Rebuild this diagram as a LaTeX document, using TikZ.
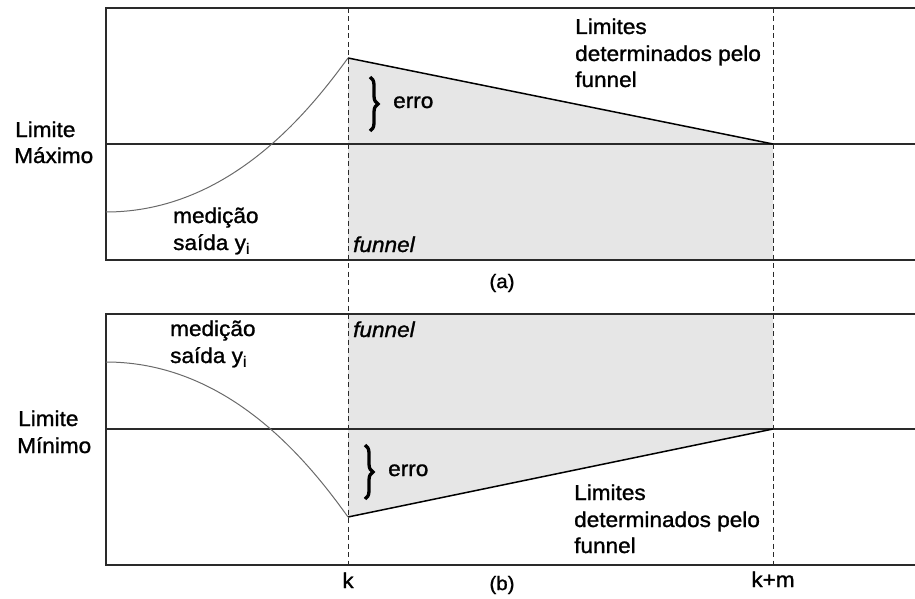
\documentclass[tikz,border=0pt]{standalone}
\usepackage{fontspec}
\setmainfont[FakeStretch=1.05,FakeBold=1.2]{Liberation Sans}
\usetikzlibrary{decorations.pathreplacing}
\definecolor{funnelgray}{HTML}{E6E6E6}
\definecolor{frameline}{HTML}{2A2A2A}
\definecolor{curveline}{HTML}{6A6A6A}
\begin{document}
\begin{tikzpicture}[x=1pt,y=-1pt,
  frame/.style={line width=1.2pt,draw=frameline},
  guide/.style={line width=0.9pt,draw=frameline,dash pattern=on 5pt off 3.5pt},
  bound/.style={line width=1.5pt,draw=black},
  meas/.style={line width=1pt,draw=curveline},
  txt/.style={inner sep=0pt,font=\fontsize{21.5}{25}\selectfont,anchor=base west},
  subcaption/.style={inner sep=0pt,font=\fontsize{19.5}{23}\selectfont},
  errbrace/.style={line width=3.3pt,decorate,decoration={brace,amplitude=8pt}}]
\useasboundingbox (0,0) rectangle (915,599);

% ---------- key points ----------
% panel (a)
\coordinate (aTL) at (106,8);   \coordinate (aTR) at (915,8);
\coordinate (aBL) at (106,260); \coordinate (aBR) at (915,260);
\coordinate (aML) at (106,144); \coordinate (aMR) at (915,144);
\coordinate (aK)  at (348,58);  \coordinate (aKm) at (773,144);
\coordinate (aKb) at (348,260); \coordinate (aKmb) at (773,260);
\coordinate (aY0) at (106,212);
% panel (b)
\coordinate (bTL) at (106,314); \coordinate (bTR) at (915,314);
\coordinate (bBL) at (106,565); \coordinate (bBR) at (915,565);
\coordinate (bML) at (106,429); \coordinate (bMR) at (915,429);
\coordinate (bK)  at (348,517); \coordinate (bKm) at (773,429);
\coordinate (bKt) at (348,314); \coordinate (bKmt) at (773,314);
\coordinate (bY0) at (106,362);
% guide ends
\coordinate (kTop) at (348,8);  \coordinate (kBot) at (348,565);
\coordinate (kmTop) at (773,8); \coordinate (kmBot) at (773,565);

% ---------- funnel regions ----------
\fill[funnelgray] (aK) -- (aKm) -- (aKmb) -- (aKb) -- cycle;
\fill[funnelgray] (bKt) -- (bKmt) -- (bKm) -- (bK) -- cycle;

% ---------- frames ----------
\draw[frame] (aTR) -- (aTL) -- (aBL) -- (aBR);
\draw[frame] (aML) -- (aMR);
\draw[frame] (bTR) -- (bTL) -- (bBL) -- (bBR);
\draw[frame] (bML) -- (bMR);

% ---------- instants k and k+m ----------
\draw[guide] (kTop) -- (kBot);
\draw[guide] (kmTop) -- (kmBot);

% ---------- funnel limits ----------
\draw[bound] (aK) -- (aKm);
\draw[bound] (bK) -- (bKm);

% ---------- measured output ----------
\draw[meas] (aY0) .. controls (230,212) and (310,110) .. (aK);
\draw[meas] (bY0) .. controls (230,362) and (310,464) .. (bK);

% ---------- error braces ----------
\draw[errbrace] (370,77) -- (370,131);
\draw[errbrace] (365,445) -- (365,499);

% ---------- labels, panel (a) ----------
\node[txt] (aL1) at (15,137) {Limite};
\node[txt] (aL2) at (14,163) {Máximo};
\node[txt] (aM1) at (173,223) {medição};
\node[txt] (aM2) at (173,250) {saída y\textsubscript{i}};
\node[txt] (aF)  at (353,252) {\itshape funnel};
\node[txt] (aE)  at (393,108) {erro};
\node[txt] (aD1) at (575,34) {Limites};
\node[txt] (aD2) at (575,61) {determinados pelo};
\node[txt] (aD3) at (575,87) {funnel};
\node[subcaption] (aCap) at (502,283) {(a)};

% ---------- labels, panel (b) ----------
\node[txt] (bL1) at (18,426) {Limite};
\node[txt] (bL2) at (17,453) {Mínimo};
\node[txt] (bM1) at (170,336) {medição};
\node[txt] (bM2) at (170,363) {saída y\textsubscript{i}};
\node[txt] (bF)  at (353,337) {\itshape funnel};
\node[txt] (bE)  at (388,476) {erro};
\node[txt] (bD1) at (574,500) {Limites};
\node[txt] (bD2) at (574,527) {determinados pelo};
\node[txt] (bD3) at (574,553) {funnel};
\node[subcaption] (bCap) at (502,585) {(b)};
\node[txt,anchor=base] (kLab)  at (348,588) {k};
\node[txt,anchor=base] (kmLab) at (773,587) {k+m};
\end{tikzpicture}
\end{document}
